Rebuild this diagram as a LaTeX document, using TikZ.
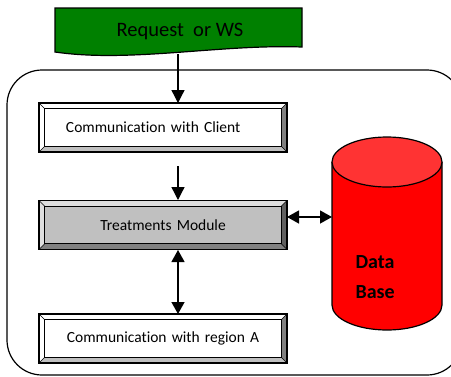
\documentclass[tikz,border=0pt]{standalone}
\usepackage{fontspec}
\setmainfont{Carlito}[RawFeature={-liga;-clig}]
\usetikzlibrary{arrows.meta,backgrounds}
\definecolor{reqgreen}{RGB}{0,128,0}
\definecolor{dbred}{RGB}{255,0,0}
\definecolor{dbtop}{RGB}{255,51,51}
\definecolor{facegray}{RGB}{192,192,192}
\definecolor{bvlight}{RGB}{222,222,222}
\definecolor{bvdark}{RGB}{96,96,96}
\definecolor{bvmid}{RGB}{128,128,128}
\definecolor{bvpale}{RGB}{192,192,192}
\newcommand\bevelbox[6]{%
 \fill[#2] (#1.north west) rectangle (#1.south east);
 \fill[#3] (#1.north west) -- (#1.north east) -- ([shift={(-6,6)}]#1.north east) -- ([shift={(6,6)}]#1.north west) -- cycle;
 \fill[#4] (#1.north west) -- (#1.south west) -- ([shift={(6,-6)}]#1.south west) -- ([shift={(6,6)}]#1.north west) -- cycle;
 \fill[#5] (#1.north east) -- (#1.south east) -- ([shift={(-6,-6)}]#1.south east) -- ([shift={(-6,6)}]#1.north east) -- cycle;
 \fill[#6] (#1.south west) -- (#1.south east) -- ([shift={(-6,-6)}]#1.south east) -- ([shift={(6,-6)}]#1.south west) -- cycle;
 \draw[line width=0.6pt] (#1.north west) -- ([shift={(6,6)}]#1.north west)
   (#1.north east) -- ([shift={(-6,6)}]#1.north east)
   (#1.south west) -- ([shift={(6,-6)}]#1.south west)
   (#1.south east) -- ([shift={(-6,-6)}]#1.south east);
 \draw[line width=1.1pt] ([shift={(6,6)}]#1.north west) rectangle ([shift={(-6,-6)}]#1.south east);
 \draw[line width=1.5pt] (#1.north west) rectangle (#1.south east);
}
\begin{document}
\begin{tikzpicture}[x=1pt,y=-1pt,
  arr/.style={line width=1.3pt,-{Triangle[length=13pt,width=13pt]}},
  darr/.style={line width=1.3pt,{Triangle[length=12pt,width=13pt]}-{Triangle[length=12pt,width=13pt]}},
  box/.style={inner sep=0pt,minimum width=248pt,minimum height=49pt,text width=220pt,align=center,
    font=\fontsize{15.5}{18}\selectfont}]
\useasboundingbox (0,0) rectangle (451,376);
% outer frame
\draw[line width=1.2pt,rounded corners=35pt] (7,70) rectangle (462,375);
% request shape
\draw[line width=1.2pt,fill=reqgreen] (55,8) -- (302,8) -- (302,47)
  .. controls (220,44) and (130,63) .. (55,52) -- cycle;
\node[font=\fontsize{20.5}{24}\selectfont] (req) at (180,31) {Request\ \ or WS};
% boxes
\node[box,text width=194pt,align=left] (client) at (163,127.5) {Communication with Client};
\node[box] (treat) at (163,225) {Treatments Module};
\node[box] (regA) at (163,338.5) {Communication with region A};
\begin{scope}[on background layer]
\bevelbox{client}{white}{white}{white}{bvmid}{bvpale}
\bevelbox{treat}{facegray}{bvlight}{bvlight}{bvdark}{bvmid}
\bevelbox{regA}{white}{white}{white}{bvmid}{bvpale}
\end{scope}
% database
\node[inner sep=0pt,minimum width=110pt,minimum height=193pt] (db) at (387,233.5) {};
\fill[dbred] (332,162) -- (332,305) arc[start angle=180,end angle=360,x radius=55pt,y radius=25pt] -- (442,162) -- cycle;
\draw[line width=1.2pt] (332,162) -- (332,305) arc[start angle=180,end angle=360,x radius=55pt,y radius=25pt] -- (442,162);
\draw[line width=1.2pt,fill=dbtop] (387,162) ellipse [x radius=55pt,y radius=25pt];
\node[font=\bfseries\fontsize{20}{30}\selectfont,align=left,anchor=west] (dbtxt) at (352,277) {Data\\Base};
% connectors
\coordinate (g1) at (178,54);
\coordinate (c0) at (178,103);
\coordinate (c1) at (178,166);
\coordinate (t0) at (178,200);
\coordinate (t1) at (178,250);
\coordinate (r0) at (178,314);
\coordinate (tr) at (287,217);
\coordinate (dbin) at (332,217);
\draw[arr] (g1) -- (c0);
\draw[arr] (c1) -- (t0);
\draw[darr] (t1) -- (r0);
\draw[darr] (tr) -- (dbin);
\end{tikzpicture}
\end{document}
